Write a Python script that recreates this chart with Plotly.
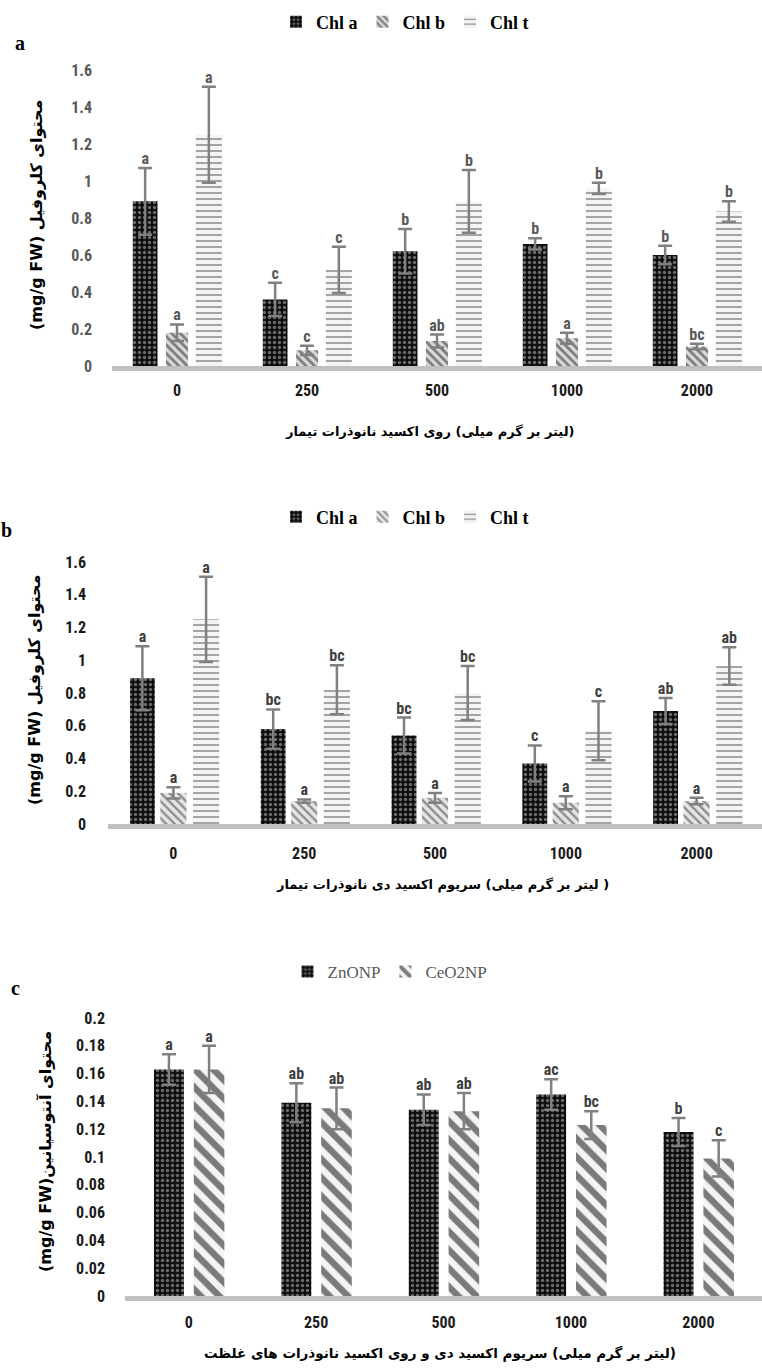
import numpy as np
import plotly.graph_objects as go

W, H = 762, 1369

# ---------------- data ----------------
doses = ["0", "250", "500", "1000", "2000"]

# panel a : ZnO NP
a_chla = [0.89, 0.36, 0.62, 0.66, 0.60]
a_chla_err = [0.18, 0.09, 0.12, 0.03, 0.05]
a_chlb = [0.18, 0.085, 0.135, 0.15, 0.105]
a_chlb_err = [0.045, 0.025, 0.035, 0.03, 0.015]
a_chlt = [1.25, 0.52, 0.89, 0.96, 0.835]
a_chlt_err = [0.26, 0.125, 0.17, 0.03, 0.055]
a_let_a = ["a", "c", "b", "b", "b"]
a_let_b = ["a", "c", "ab", "a", "bc"]
a_let_t = ["a", "c", "b", "b", "b"]

# panel b : CeO2 NP
b_chla = [0.89, 0.58, 0.54, 0.37, 0.69]
b_chla_err = [0.195, 0.12, 0.11, 0.11, 0.08]
b_chlb = [0.19, 0.14, 0.16, 0.13, 0.14]
b_chlb_err = [0.035, 0.01, 0.03, 0.04, 0.02]
b_chlt = [1.25, 0.82, 0.80, 0.57, 0.965]
b_chlt_err = [0.26, 0.15, 0.165, 0.18, 0.115]
b_let_a = ["a", "bc", "bc", "c", "ab"]
b_let_b = ["a", "a", "a", "a", "a"]
b_let_t = ["a", "bc", "bc", "c", "ab"]

# panel c : anthocyanin
c_zno = [0.163, 0.139, 0.134, 0.145, 0.118]
c_zno_err = [0.011, 0.014, 0.011, 0.011, 0.010]
c_ceo = [0.163, 0.135, 0.133, 0.123, 0.099]
c_ceo_err = [0.017, 0.015, 0.013, 0.010, 0.013]
c_let_zno = ["a", "ab", "ab", "ac", "b"]
c_let_ceo = ["a", "ab", "ab", "bc", "c"]

# ---------------- style ----------------
NUM_FONT = "Liberation Sans Narrow, Roboto Condensed, Liberation Sans, Arial"
FA_FONT = "DejaVu Sans, Noto Sans, sans-serif"
SERIF = "Liberation Serif, Times New Roman, serif"
LRM = "\u200e"


def word_ltr(s):
    # keep the words left-to-right, as they appear in the source picture
    return LRM + (LRM + " " + LRM).join(s.split(" ")) + LRM


def xd(left):
    return [left / W, 1.0]


def yd(top, bottom):
    return [1 - bottom / H, 1 - top / H]


PAT_DOTS = dict(shape=".", bgcolor="#0d0d0d", fgcolor="#c8c8c8", size=5, solidity=0.35)
PAT_DIAG = dict(shape="\\", bgcolor="#d9d9d9", fgcolor="#1a1a1a", size=6, solidity=0.45)
PAT_DIAG_B = dict(shape="\\", bgcolor="#e6e6e6", fgcolor="#333333", size=6, solidity=0.4)
PAT_WAVE = dict(shape="-", bgcolor="#f4f4f4", fgcolor="#1f1f1f", size=6, solidity=0.25)
PAT_STRIPE = dict(shape="\\", bgcolor="#f4f4f4", fgcolor="#000000", size=13, solidity=0.5)

ERR = dict(type="data", color="#808080", thickness=2.5, width=7, visible=True)

fig = go.Figure()
xs = np.arange(len(doses))


def add_series(vals, errs, letters, name, pattern, offset, width, xa, ya, legend,
               letter_color, letter_size=16):
    x = xs + offset
    fig.add_trace(go.Bar(
        x=x, y=vals, width=width, name=name,
        marker=dict(color=pattern["bgcolor"], pattern=pattern, line=dict(width=0)),
        error_y=dict(array=errs, **ERR),
        xaxis=xa, yaxis=ya, legend=legend,
    ))
    fig.add_trace(go.Scatter(
        x=x, y=np.array(vals) + np.array(errs), text=letters, mode="text",
        textposition="top center", cliponaxis=False, showlegend=False,
        textfont=dict(family=NUM_FONT, size=letter_size, color=letter_color, weight="bold"),
        xaxis=xa, yaxis=ya, hoverinfo="skip",
    ))


# panel a
add_series(a_chla, a_chla_err, a_let_a, "Chl a", PAT_DOTS, -0.245, 0.19, "x", "y", "legend", "#595959")
add_series(a_chlb, a_chlb_err, a_let_b, "Chl b", PAT_DIAG, 0.0, 0.17, "x", "y", "legend", "#595959")
add_series(a_chlt, a_chlt_err, a_let_t, "Chl t", PAT_WAVE, 0.245, 0.20, "x", "y", "legend", "#595959")
# panel b
add_series(b_chla, b_chla_err, b_let_a, "Chl a", PAT_DOTS, -0.237, 0.19, "x2", "y2", "legend2", "#404040")
add_series(b_chlb, b_chlb_err, b_let_b, "Chl b", PAT_DIAG_B, 0.0, 0.20, "x2", "y2", "legend2", "#404040")
add_series(b_chlt, b_chlt_err, b_let_t, "Chl t", PAT_WAVE, 0.25, 0.20, "x2", "y2", "legend2", "#404040")
# panel c
add_series(c_zno, c_zno_err, c_let_zno, "ZnONP", PAT_DOTS, -0.155, 0.235, "x3", "y3", "legend3", "#404040")
add_series(c_ceo, c_ceo_err, c_let_ceo, "CeO2NP", PAT_STRIPE, 0.16, 0.24, "x3", "y3", "legend3", "#404040")


def xaxis(left, anchor, standoff, color):
    return dict(domain=xd(left), anchor=anchor, range=[-0.5, 4.5], tickmode="array",
                tickvals=list(xs), ticktext=doses, showline=True, linecolor="#bfbfbf",
                linewidth=5, showgrid=False, zeroline=False, ticks="",
                ticklabelstandoff=standoff,
                tickfont=dict(family=NUM_FONT, size=16, color=color, weight="bold"))


def yaxis(top, bottom, anchor, rng, dtick, color, standoff):
    return dict(domain=yd(top, bottom), anchor=anchor, range=rng, dtick=dtick,
                showline=False, showgrid=False, zeroline=False, ticks="",
                ticklabelstandoff=standoff,
                tickfont=dict(family=NUM_FONT, size=16, color=color, weight="bold"))


fig.update_layout(
    width=W, height=H, margin=dict(l=0, r=0, t=0, b=0, autoexpand=False),
    paper_bgcolor="white", plot_bgcolor="white", barmode="overlay",
    xaxis=xaxis(112, "y", 6, "#1a1a1a"),
    yaxis=yaxis(70, 366, "x", [0, 1.6], 0.2, "#595959", 19),
    xaxis2=xaxis(108, "y2", 11, "#1a1a1a"),
    yaxis2=yaxis(562, 824, "x2", [0, 1.6], 0.2, "#1a1a1a", 21),
    xaxis3=xaxis(125, "y3", 8, "#1a1a1a"),
    yaxis3=yaxis(1018, 1296, "x3", [0, 0.2], 0.02, "#1a1a1a", 19),
    legend=dict(orientation="h", x=405 / W, xanchor="center", y=1 - 22 / H, yanchor="middle",
                itemwidth=30, font=dict(family=SERIF, size=18, color="#000000", weight="bold"),
                bgcolor="rgba(0,0,0,0)"),
    legend2=dict(orientation="h", x=405 / W, xanchor="center", y=1 - 517 / H, yanchor="middle",
                 itemwidth=30, font=dict(family=SERIF, size=18, color="#000000", weight="bold"),
                 bgcolor="rgba(0,0,0,0)"),
    legend3=dict(orientation="h", x=390 / W, xanchor="center", y=1 - 972 / H, yanchor="middle",
                 itemwidth=30, font=dict(family=SERIF, size=17, color="#595959"),
                 bgcolor="rgba(0,0,0,0)"),
)

annos = [
    # panel letters
    dict(text="a", x=20, y=43, size=20, family=SERIF, color="#000", angle=0),
    dict(text="b", x=6, y=530, size=20, family=SERIF, color="#000", angle=0),
    dict(text="c", x=15, y=988, size=20, family=SERIF, color="#000", angle=0),
    # y titles
    dict(text="(mg/g FW) محتوای کلروفیل", x=37, y=215, size=16, family=FA_FONT, color="#000", angle=-90),
    dict(text="(mg/g FW) محتوای کلروفیل", x=34, y=690, size=16, family=FA_FONT, color="#000", angle=-90),
    dict(text="(mg/g FW)محتوای آنتوسیانین", x=45, y=1152, size=16, family=FA_FONT, color="#000", angle=-90),
    # x titles
    dict(text=word_ltr("تیمار نانوذرات اکسید روی (میلی گرم بر لیتر)"), x=430, y=432, size=13,
         family=FA_FONT, color="#000", angle=0),
    dict(text=word_ltr("تیمار نانوذرات دی اکسید سریوم (میلی گرم بر لیتر )"), x=442, y=885, size=13,
         family=FA_FONT, color="#000", angle=0),
    dict(text=word_ltr("غلظت های نانوذرات اکسید روی و دی اکسید سریوم (میلی گرم بر لیتر)"), x=440,
         y=1353, size=13.5, family=FA_FONT, color="#000", angle=0),
]
for a in annos:
    fig.add_annotation(text=a["text"], xref="paper", yref="paper", x=a["x"] / W, y=1 - a["y"] / H,
                       xanchor="center", yanchor="middle", showarrow=False, textangle=a["angle"],
                       font=dict(family=a["family"], size=a["size"], color=a["color"], weight="bold"))

fig.write_html("out.html", config={"displayModeBar": False},
               post_script="document.body.style.margin='0px';")
